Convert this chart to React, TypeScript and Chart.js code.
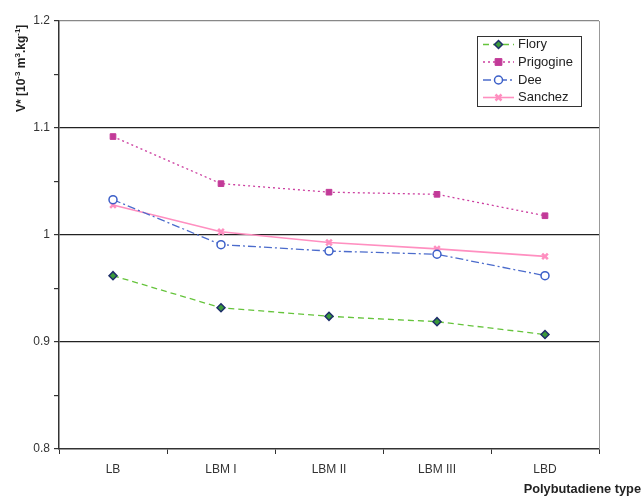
import React, { useEffect, useRef } from "react";
import { Chart, registerables } from "chart.js";

Chart.register(...registerables);

const categories = ["LB", "LBM I", "LBM II", "LBM III", "LBD"];
const flory = [0.962, 0.932, 0.924, 0.919, 0.907];
const prigogine = [1.092, 1.048, 1.04, 1.038, 1.018];
const dee = [1.033, 0.991, 0.985, 0.982, 0.962];
const sanchez = [1.028, 1.003, 0.993, 0.987, 0.98];
const seriesNames = ["Flory", "Prigogine", "Dee", "Sanchez"];
const yTickLabels = ["0.8", "0.9", "1", "1.1", "1.2"];
const FONT = "'Liberation Sans', Arial, sans-serif";

function drawPointLocal(ctx: any, style: any, x: number, y: number) {
  const r = style.radius;
  ctx.beginPath();
  switch (style.pointStyle) {
    case "rectRot":
      ctx.moveTo(x, y - r);
      ctx.lineTo(x + r, y);
      ctx.lineTo(x, y + r);
      ctx.lineTo(x - r, y);
      ctx.closePath();
      ctx.fill();
      ctx.stroke();
      break;
    case "rect":
      ctx.rect(x - r * 0.85, y - r * 0.85, r * 1.7, r * 1.7);
      ctx.fill();
      ctx.stroke();
      break;
    case "circle":
      ctx.arc(x, y, r, 0, Math.PI * 2);
      ctx.fill();
      ctx.stroke();
      break;
    default: {
      const d = r * 0.75;
      ctx.moveTo(x - d, y - d);
      ctx.lineTo(x + d, y + d);
      ctx.moveTo(x + d, y - d);
      ctx.lineTo(x - d, y + d);
      ctx.stroke();
    }
  }
}

const decorPlugin = {
  id: "decor",
  afterDraw(chart: any) {
    const ctx = chart.ctx;
    const ca = chart.chartArea;
    ctx.save();
    ctx.strokeStyle = "#999";
    ctx.lineWidth = 1;
    ctx.beginPath();
    ctx.moveTo(Math.round(ca.right) + 0.5, ca.top);
    ctx.lineTo(Math.round(ca.right) + 0.5, ca.bottom);
    ctx.stroke();

    ctx.translate(22, 112);
    ctx.rotate(-Math.PI / 2);
    ctx.fillStyle = "#222";
    ctx.textBaseline = "middle";
    ctx.textAlign = "left";
    const parts: [string, boolean][] = [
      ["V* [10", false],
      ["-3", true],
      [" m", false],
      ["3", true],
      [".kg", false],
      ["-1", true],
      ["]", false],
    ];
    let x = 0;
    for (const [t, sup] of parts) {
      ctx.font = sup ? `bold 8px ${FONT}` : `bold 12px ${FONT}`;
      ctx.fillText(t, x, sup ? -4 : 0);
      x += ctx.measureText(t).width;
    }
    ctx.restore();

    ctx.save();
    ctx.font = `bold 12.8px ${FONT}`;
    ctx.fillStyle = "#222";
    ctx.textAlign = "right";
    ctx.textBaseline = "middle";
    ctx.fillText("Polybutadiene type", 641, 489);
    ctx.restore();

    ctx.save();
    const bx = 477.5, by = 36.5, bw = 104, bh = 70;
    ctx.fillStyle = "#fff";
    ctx.fillRect(bx, by, bw, bh);
    ctx.strokeStyle = "#333";
    ctx.lineWidth = 1;
    ctx.strokeRect(bx, by, bw, bh);
    const rows = [44.5, 62, 80, 97.5];
    chart.data.datasets.forEach((ds: any, i: number) => {
      const y = rows[i];
      ctx.save();
      ctx.strokeStyle = ds.borderColor;
      ctx.lineWidth = ds.borderWidth;
      ctx.setLineDash(ds.borderDash || []);
      ctx.beginPath();
      ctx.moveTo(483, y);
      ctx.lineTo(514, y);
      ctx.stroke();
      ctx.restore();
      ctx.save();
      ctx.fillStyle = ds.pointBackgroundColor;
      ctx.strokeStyle = ds.pointBorderColor;
      ctx.lineWidth = ds.pointBorderWidth;
      drawPointLocal(ctx, { pointStyle: ds.pointStyle, radius: ds.pointRadius }, 498.5, y);
      ctx.restore();
      ctx.font = `13px ${FONT}`;
      ctx.fillStyle = "#222";
      ctx.textAlign = "left";
      ctx.textBaseline = "middle";
      ctx.fillText(ds.label, 518, y);
    });
    ctx.restore();
  },
};

export default function App() {
  const ref = useRef<HTMLCanvasElement>(null);
  useEffect(() => {
    document.body.style.margin = "0";
    const chart = new Chart(ref.current!, {
      type: "line",
      data: {
        labels: categories,
        datasets: [
          {
            label: seriesNames[0],
            data: flory,
            borderColor: "#66c43c",
            borderWidth: 1.3,
            borderDash: [6, 4],
            pointStyle: "rectRot",
            pointRadius: 4,
            pointBackgroundColor: "#3a9a3a",
            pointBorderColor: "#1f2f6a",
            pointBorderWidth: 1.5,
            tension: 0,
          },
          {
            label: seriesNames[1],
            data: prigogine,
            borderColor: "#cc3fa0",
            borderWidth: 1.3,
            borderDash: [2, 3],
            pointStyle: "rect",
            pointRadius: 4,
            pointBackgroundColor: "#c23a98",
            pointBorderColor: "#c23a98",
            pointBorderWidth: 1,
            tension: 0,
          },
          {
            label: seriesNames[2],
            data: dee,
            borderColor: "#4c6ccc",
            borderWidth: 1.3,
            borderDash: [8, 3, 2, 3],
            pointStyle: "circle",
            pointRadius: 4,
            pointBackgroundColor: "#ffffff",
            pointBorderColor: "#3b5fc8",
            pointBorderWidth: 1.5,
            tension: 0,
          },
          {
            label: seriesNames[3],
            data: sanchez,
            borderColor: "#ff8fc0",
            borderWidth: 1.6,
            pointStyle: "crossRot",
            pointRadius: 4,
            pointBackgroundColor: "#ff8fc0",
            pointBorderColor: "#ff8fc0",
            pointBorderWidth: 2.5,
            tension: 0,
          },
        ],
      },
      options: {
        animation: false,
        responsive: false,
        maintainAspectRatio: false,
        layout: { padding: { top: 21, right: 43, left: 0, bottom: 0 } },
        plugins: { legend: { display: false }, tooltip: { enabled: false } },
        scales: {
          x: {
            offset: true,
            grid: {
              offset: true,
              drawOnChartArea: false,
              tickLength: 5,
              tickColor: "#333",
            },
            border: { display: true, color: "#333", width: 1.5 },
            ticks: {
              font: { family: FONT, size: 12 },
              color: "#333",
              padding: 8,
            },
            afterFit: (s: any) => {
              s.height = 47;
            },
          },
          y: {
            min: 0.8,
            max: 1.2,
            grid: {
              color: (c: any) => {
                const v = Math.round(c.tick.value * 100);
                if (v === 90 || v === 100 || v === 110) return "#222";
                if (v === 120) return "#888";
                return "rgba(0,0,0,0)";
              },
              lineWidth: 1.2,
              tickLength: 5,
              tickColor: "#333",
            },
            border: { display: true, color: "#333", width: 1.5 },
            ticks: {
              stepSize: 0.05,
              font: { family: FONT, size: 12 },
              color: "#333",
              padding: 4,
              callback: (v: any) => {
                const idx = Math.round((Number(v) - 0.8) * 20);
                return idx % 2 === 0 ? yTickLabels[idx / 2] : "";
              },
            },
            afterFit: (s: any) => {
              s.width = 59;
            },
          },
        },
      },
      plugins: [decorPlugin],
    } as any);
    return () => chart.destroy();
  }, []);
  return (
    <div style={{ position: "absolute", left: 0, top: 0, width: 642, height: 496 }}>
      <canvas ref={ref} width={642} height={496} style={{ width: 642, height: 496 }} />
    </div>
  );
}
